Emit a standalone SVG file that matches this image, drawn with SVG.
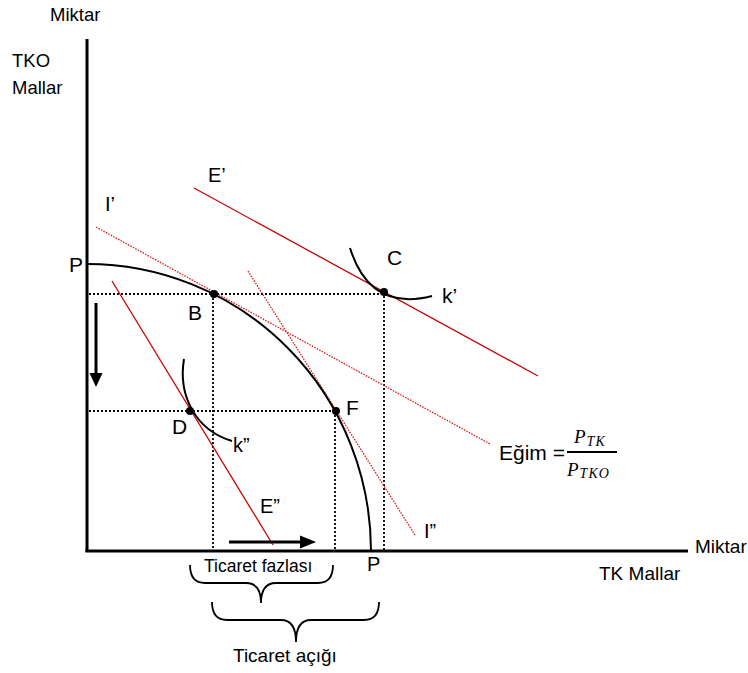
<svg xmlns="http://www.w3.org/2000/svg" width="748" height="673" viewBox="0 0 748 673">
<style>
text{font-family:"Liberation Sans",Arial,sans-serif;fill:#000}
.lbl{font-size:21px}
.sm{font-size:19px}
.axis{stroke:#000;stroke-width:3;fill:none}
.guide{stroke:#000;stroke-width:1.8;stroke-dasharray:2 2;fill:none}
.red{stroke:#cc0000;stroke-width:1.3;fill:none}
.reddot{stroke:#e02020;stroke-width:1.3;stroke-dasharray:1.6 1.2;fill:none}
.curve{stroke:#000;stroke-width:2;fill:none}
.math{font-family:"Liberation Serif","Times New Roman",serif;font-style:italic}
</style>
<rect width="748" height="673" fill="#fff"/>
<g id="axes">
<line class="axis" x1="87" y1="39" x2="87" y2="552"/>
<line class="axis" x1="85.5" y1="551" x2="688" y2="551"/>
<text x="50" y="21" style="font-size:18.5px">Miktar</text>
<text x="12" y="67" style="font-size:18.5px">TKO</text>
<text x="12" y="94" style="font-size:18.5px">Mallar</text>
<text x="695" y="553" class="sm">Miktar</text>
<text x="599" y="580" class="sm">TK Mallar</text>
</g>
<g id="connectors">
<line class="guide" x1="89" y1="294" x2="384" y2="294"/>
<line class="guide" x1="89" y1="411" x2="336" y2="411"/>
<line class="guide" x1="213" y1="294" x2="213" y2="550"/>
<line class="guide" x1="335" y1="411" x2="335" y2="550"/>
<line class="guide" x1="384" y1="292" x2="384" y2="550"/>
<line class="red" x1="194" y1="188" x2="538" y2="376"/>
<line class="red" x1="112" y1="281" x2="273" y2="545"/>
<line class="reddot" x1="96" y1="227" x2="490" y2="444"/>
<line class="reddot" x1="248" y1="271" x2="415" y2="535"/>
</g>
<g id="ppf">
<path class="curve" d="M87,264 A284,287 0 0 1 371,551"/>
<text x="69" y="272" class="lbl">P</text>
<text x="367" y="571" style="font-size:20px">P</text>
</g>
<g id="k1">
<path class="curve" d="M350,248 Q370,312 432,296"/>
<text x="442" y="303" class="lbl">k’</text>
</g>
<g id="k2">
<path class="curve" d="M184,359 C178,395 195,430 232,441"/>
<text x="233" y="452" style="font-size:20px">k”</text>
</g>
<g id="B"><circle cx="214" cy="294" r="4"/><text x="188" y="320" class="lbl">B</text></g>
<g id="C"><circle cx="384" cy="292" r="4"/><text x="387" y="265" class="lbl">C</text></g>
<g id="D"><circle cx="190" cy="411" r="4"/><text x="172" y="434" class="lbl">D</text></g>
<g id="F"><circle cx="336" cy="411" r="4"/><text x="346" y="415" class="lbl">F</text></g>
<g id="labels">
<text x="208" y="182" style="font-size:20px">E’</text>
<text x="105" y="211" style="font-size:20px">I’</text>
<text x="260" y="513" style="font-size:20px">E”</text>
<text x="424" y="538" style="font-size:20px">I”</text>
</g>
<g id="arrows">
<line x1="96" y1="303" x2="96" y2="374" stroke="#000" stroke-width="3"/>
<polygon points="89.5,373 102.5,373 96,387" fill="#000"/>
<line x1="229" y1="542" x2="301" y2="542" stroke="#000" stroke-width="3"/>
<polygon points="300,535.5 300,548.5 316,542" fill="#000"/>
</g>
<g id="slope">
<text x="499" y="460" style="font-size:21px">Eğim =</text>
<line x1="567" y1="452" x2="617" y2="452" stroke="#000" stroke-width="2"/>
<text x="574" y="443" class="math" style="font-size:19px">P<tspan dx="1" dy="3" style="font-size:14px;letter-spacing:1px">TK</tspan></text>
<text x="567" y="476" class="math" style="font-size:19px">P<tspan dx="1" dy="2" style="font-size:14px;letter-spacing:1px">TKO</tspan></text>
</g>
<g id="brace-surplus">
<path class="curve" style="stroke-width:1.8" d="M190,565 Q190,583 205,583 L246,583 Q261,583 261,603 Q261,583 276,583 L318,583 Q333,583 333,565"/>
<text x="204" y="572" style="font-size:17.5px">Ticaret fazlası</text>
</g>
<g id="brace-deficit">
<path class="curve" style="stroke-width:1.8" d="M212,602 Q212,620 227,620 L281,620 Q296,620 296,642 Q296,620 311,620 L364,620 Q379,620 379,602"/>
<text x="233" y="662" style="font-size:19px">Ticaret açığı</text>
</g>
</svg>
